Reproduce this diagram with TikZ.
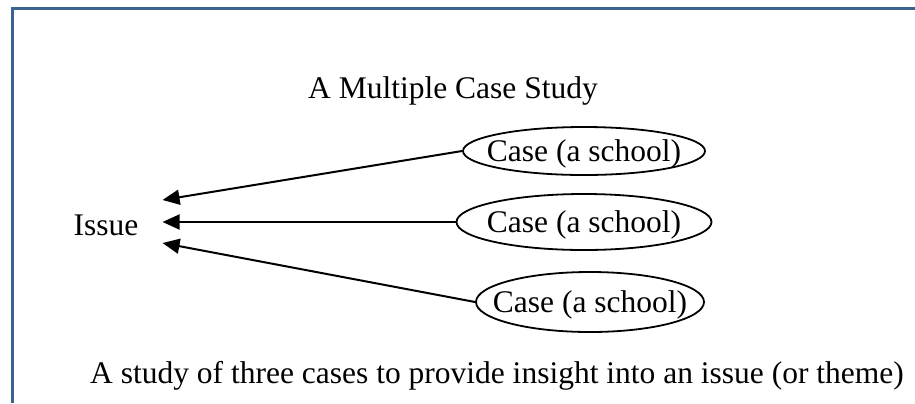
\documentclass[tikz,border=0pt]{standalone}
\usepackage{fontspec}
\setmainfont{Liberation Serif}
\usetikzlibrary{arrows.meta, shapes.geometric, calc}
\definecolor{frameblue}{RGB}{62,98,143}

\begin{document}
\begin{tikzpicture}[x=1bp,y=-1bp,
        txt/.style={font=\fontsize{31.5bp}{36bp}\selectfont, text height=21bp, text depth=0pt, inner sep=0pt},
        casebox/.style={txt, draw, ellipse, line width=1.8bp, inner xsep=-20bp, inner ysep=0pt},
        link/.style={line width=2bp, -{Triangle[length=17bp,width=15bp]}}]
        \useasboundingbox (0,0) rectangle (915,403);

        % 1. Frame (top and left edges)
        \draw[frameblue, line width=3bp] (12,403) -- (12,8) -- (915,8);

        % 2. Title and Issue
        \node[txt] (title) at (453,88) {A Multiple Case Study};
        \node[txt] (issue) at (106,225) {Issue};

        % 3. Cases
        \node[casebox, minimum width=242bp, minimum height=48bp] (case1) at (584,151) {Case (a school)};
        \node[casebox, minimum width=255bp, minimum height=56bp] (case2) at (584,222) {Case (a school)};
        \node[casebox, minimum width=228bp, minimum height=60bp] (case3) at (590,302) {Case (a school)};

        % 4. Arrow tips next to Issue
        \coordinate (tip1) at ($(issue.east)+(24,-25)$);
        \coordinate (tip2) at ($(issue.east)+(24,-3)$);
        \coordinate (tip3) at ($(issue.east)+(24,18)$);

        % 5. Arrows
        \draw[link] (case1.west) -- (tip1);
        \draw[link] (case2.west) -- (tip2);
        \draw[link] (case3.west) -- (tip3);

        % 6. Caption
        \node[txt, anchor=base west] (caption) at (90,383) {A study of three cases to provide insight into an issue (or theme)};
\end{tikzpicture}
\end{document}
